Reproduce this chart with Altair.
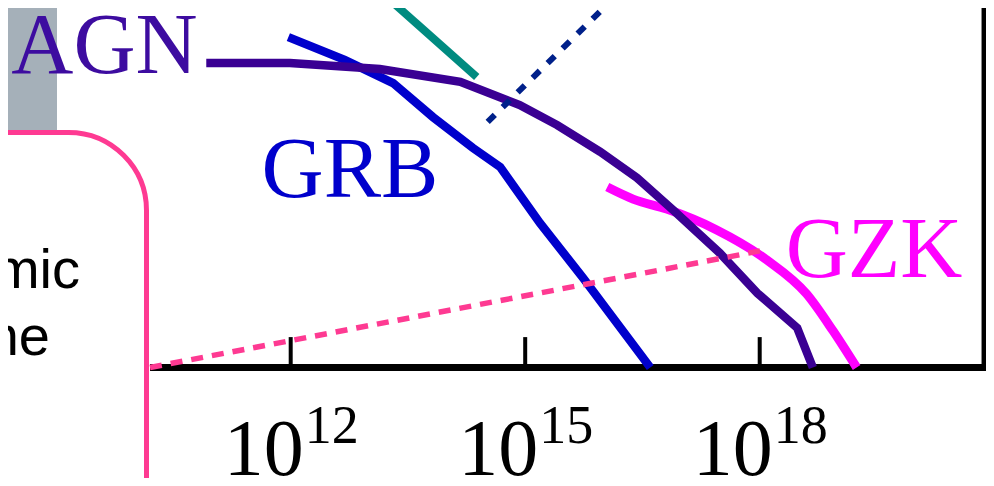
import altair as alt
import pandas as pd

# ---- data (x: log10 energy, y: log10 flux in arbitrary units) ----
agn_logE = [10.92, 11.99, 13.14, 14.17, 14.93, 15.41, 15.96, 16.43, 16.89, 17.49, 17.97, 18.48, 18.68]
agn_flux = [7.61, 7.61, 7.46, 7.14, 6.56, 6.06, 5.39, 4.74, 3.94, 2.86, 1.86, 0.99, 0.0]

grb_logE = [11.97, 12.69, 13.31, 13.82, 14.33, 14.68, 15.19, 15.74, 16.60]
grb_flux = [8.26, 7.69, 7.11, 6.26, 5.49, 5.01, 3.61, 2.24, 0.0]

gzk_logE = [16.05, 16.38, 16.81, 17.45, 18.09, 18.60, 18.94, 19.24]
gzk_flux = [4.51, 4.21, 3.96, 3.44, 2.69, 1.84, 0.91, 0.0]

teal_logE = [13.27, 14.38]
teal_flux = [9.19, 7.26]

navy_logE = [14.52, 16.11]
navy_flux = [6.14, 9.19]

pink_logE = [10.20, 18.07]
pink_flux = [0.0, 2.94]

tick_exps = [12, 15, 18]
tick_base = ["10", "10", "10"]
tick_sup = ["12", "15", "18"]

axis_logE = [10.20, 20.90]
border_logE = [20.87]
tick_top = 0.76

series_labels = ["AGN", "GRB", "GZK"]
box_words = ["mic", "ne"]

# ---- scales ----
xs = alt.Scale(type="log", domain=[10 ** 8.3835, 10 ** 20.895], nice=False)
ys = alt.Scale(domain=[-2.7625, 8.9875], nice=False, zero=False)

X = lambda f: alt.X(f, type="quantitative", scale=xs, axis=None)
Y = lambda f: alt.Y(f, type="quantitative", scale=ys, axis=None)


def curve(logE, flux, color, width, dash=None, interp="linear"):
    df = pd.DataFrame({"E": [10 ** v for v in logE], "flux": flux, "i": list(range(len(logE)))})
    kw = dict(color=color, strokeWidth=width, clip=True, interpolate=interp, strokeCap="butt")
    if dash:
        kw["strokeDash"] = dash
    return alt.Chart(df).mark_line(**kw).encode(x=X("E"), y=Y("flux"), order="i:Q")


one = pd.DataFrame({"a": [0]})

gray_box = alt.Chart(one).mark_rect(color="#a5b0b9").encode(
    x=alt.value(0), x2=alt.value(49), y=alt.value(0), y2=alt.value(124))

pink_box = alt.Chart(one).mark_rect(
    fill="white", stroke="#fe3a92", strokeWidth=5, cornerRadius=78
).encode(x=alt.value(-300), x2=alt.value(138.5), y=alt.value(124.5), y2=alt.value(800))


def plain_text(txt, x, y, size, color, font, align="center"):
    return alt.Chart(pd.DataFrame({"t": [txt]})).mark_text(
        font=font, fontSize=size, color=color, align=align, baseline="alphabetic"
    ).encode(x=alt.value(x), y=alt.value(y), text="t:N")


mic = plain_text(box_words[0], 72, 280, 56, "black", "Liberation Sans", "right")
ne = plain_text(box_words[1], 42, 347, 56, "black", "Liberation Sans", "right")

axis_df = pd.DataFrame({"E1": [10 ** axis_logE[0]], "E2": [10 ** axis_logE[1]], "y": [0.0]})
axis_line = alt.Chart(axis_df).mark_rule(color="black", strokeWidth=7, strokeCap="butt").encode(
    x=X("E1"), x2="E2:Q", y=Y("y"))

border_df = pd.DataFrame({"E": [10 ** v for v in border_logE], "y0": [-0.09], "y1": [9.5]})
border = alt.Chart(border_df).mark_rule(color="black", strokeWidth=5, clip=True).encode(
    x=X("E"), y=Y("y0"), y2="y1:Q")

tick_df = pd.DataFrame({
    "E": [10.0 ** e for e in tick_exps],
    "y0": [0.0] * len(tick_exps),
    "y1": [tick_top] * len(tick_exps),
    "base": tick_base,
    "sup": tick_sup,
})
ticks = alt.Chart(tick_df).mark_rule(color="black", strokeWidth=4).encode(
    x=X("E"), y=Y("y0"), y2="y1:Q")
tick_lab = alt.Chart(tick_df).mark_text(
    font="Liberation Serif", fontSize=80, color="black", align="center",
    baseline="alphabetic", dx=-27
).encode(x=X("E"), y=alt.value(467), text="base:N")
tick_suplab = alt.Chart(tick_df).mark_text(
    font="Liberation Serif", fontSize=54, color="black", align="center",
    baseline="alphabetic", dx=41
).encode(x=X("E"), y=alt.value(435), text="sup:N")

grb = curve(grb_logE, grb_flux, "#0000cc", 8.5)
gzk = curve(gzk_logE, gzk_flux, "#ff00ff", 9, interp="monotone")
agn = curve(agn_logE, agn_flux, "#3a0093", 8.5)
navy = curve(navy_logE, navy_flux, "#00208a", 6, dash=[10, 11])
teal = curve(teal_logE, teal_flux, "#008b80", 8)
pink = curve(pink_logE, pink_flux, "#fe3a92", 5.5, dash=[12, 9])

agn_lab = plain_text(series_labels[0], 96.5, 65, 86, "#3d0ca0", "Liberation Serif")
grb_lab = plain_text(series_labels[1], 342, 189, 86, "#0000cc", "Liberation Serif")
gzk_lab = plain_text(series_labels[2], 866, 269, 86, "#ff00ff", "Liberation Serif")

chart = alt.layer(
    gray_box, pink_box, mic, ne,
    axis_line, border, ticks, tick_lab, tick_suplab,
    grb, gzk, agn, navy, teal, pink,
    agn_lab, grb_lab, gzk_lab,
).properties(
    width=978, height=470, padding=0, autosize="none"
).configure_view(stroke=None)

chart.save("out.html", embed_options={"renderer": "svg", "actions": False})
